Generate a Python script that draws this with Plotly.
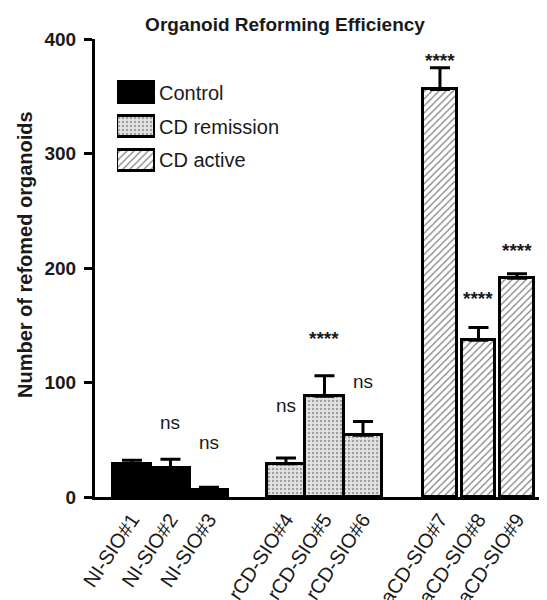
import plotly.graph_objects as go

# ---------------- data ----------------
groups = ["Control", "CD remission", "CD active"]
samples = [
    ["NI-SIO#1", "NI-SIO#2", "NI-SIO#3"],
    ["rCD-SIO#4", "rCD-SIO#5", "rCD-SIO#6"],
    ["aCD-SIO#7", "aCD-SIO#8", "aCD-SIO#9"],
]
means = [
    [29, 25, 6],
    [29, 88, 54],
    [356, 137, 191],
]
errors = [
    [3, 8, 2.5],
    [5, 18, 12],
    [19, 11, 4],
]
sig_text = [
    ["", "ns", "ns"],
    ["ns", "****", "ns"],
    ["****", "****", "****"],
]
sig_level = [
    [None, 65, 48],
    [80, 140, 101],
    [383, 175, 217],
]
y_ticks = [0, 100, 200, 300, 400]

# ---------------- styles ----------------
FONT = "Liberation Sans, Arial, sans-serif"
styles = {
    "Control": dict(color="black",
                    pattern=dict(shape="")),
    "CD remission": dict(color="#dcdcdc",
                         pattern=dict(shape=".", fgcolor="#a0a0a0", bgcolor="#e4e4e4",
                                      size=4, solidity=0.3, fillmode="replace")),
    "CD active": dict(color="white",
                      pattern=dict(shape="/", fgcolor="#808080", bgcolor="white",
                                   size=5, solidity=0.25, fillmode="replace")),
}
widths = {"Control": 1.0, "CD remission": 1.0, "CD active": 0.88}

fig = go.Figure()

all_pos, all_lab = [], []
for gi, g in enumerate(groups):
    pos = [gi * 4 + i for i in range(len(samples[gi]))]
    all_pos += pos
    all_lab += samples[gi]
    st = styles[g]
    fig.add_trace(go.Bar(
        x=pos, y=means[gi], name=g, width=widths[g],
        marker=dict(color=st["color"], pattern=st["pattern"],
                    line=dict(color="black", width=3)),
        error_y=dict(type="data", array=errors[gi],
                     arrayminus=[0] * len(errors[gi]), symmetric=False,
                     thickness=3, width=10, color="black"),
        showlegend=False,
    ))
    # significance labels
    for p, t, lv in zip(pos, sig_text[gi], sig_level[gi]):
        if not t:
            continue
        star = t.startswith("*")
        fig.add_annotation(
            x=p, y=lv, xref="x", yref="y", text=t, showarrow=False,
            yanchor="middle", yshift=-2 if star else 0,
            font=dict(family=FONT, size=19,
                      color="#1a1a1a", weight="bold" if star else "normal"),
        )

# legend keys drawn as bars on an overlay axis
for g in groups:
    st = styles[g]
    fig.add_trace(go.Bar(
        x=[1], y=[g], orientation="h", xaxis="x2", yaxis="y2", width=0.62,
        marker=dict(color=st["color"], pattern=st["pattern"],
                    line=dict(color="black", width=3)),
        showlegend=False, hoverinfo="skip",
    ))
    fig.add_annotation(
        x=1, y=g, xref="x2", yref="y2", text=g, showarrow=False,
        xanchor="left", yanchor="middle", xshift=2,
        font=dict(family=FONT, size=20, color="#1a1a1a"),
    )

# y-axis title placed as an annotation
fig.add_annotation(
    text="Number of refomed organoids", xref="paper", yref="paper",
    x=-70 / 452, y=(489 - 247) / 458, textangle=-90, showarrow=False,
    xanchor="center", yanchor="middle",
    font=dict(family=FONT, size=20, color="#1a1a1a", weight="bold"),
)

# the page body adds an 8px offset, so the figure is 8px smaller
W, H = 539, 592
fig.update_layout(
    width=W, height=H,
    margin=dict(l=87, r=0, t=31, b=103),
    paper_bgcolor="white", plot_bgcolor="white",
    bargap=0,
    title=dict(text="Organoid Reforming Efficiency", x=277 / W, xanchor="center",
               y=1 - 16 / H, yanchor="middle", yref="container",
               font=dict(family=FONT, size=19, color="#1a1a1a", weight="bold")),
    xaxis=dict(range=[-0.96, 10.78], tickvals=all_pos, ticktext=all_lab,
               tickangle=-56, ticks="", showline=True, linewidth=3, linecolor="black",
               showgrid=False, zeroline=False, automargin=False,
               tickfont=dict(family=FONT, size=20, color="#1a1a1a")),
    yaxis=dict(range=[0, 400], tickvals=y_ticks, ticks="outside", ticklen=8,
               tickwidth=3, tickcolor="black", showline=True, linewidth=3,
               linecolor="black", showgrid=False, zeroline=False, automargin=False,
               ticklabelstandoff=4,
               tickfont=dict(family=FONT, size=19, color="#1a1a1a", weight="bold")),
    xaxis2=dict(domain=[(109 - 87) / 452, (147 - 87) / 452], range=[0, 1],
                visible=False, fixedrange=True),
    yaxis2=dict(domain=[(497 - 177) / 458, (497 - 76) / 458], range=[2.5, -0.5],
                type="category", categoryorder="array", categoryarray=groups,
                visible=False, anchor="x2", fixedrange=True),
)

fig.write_html("out.html")
